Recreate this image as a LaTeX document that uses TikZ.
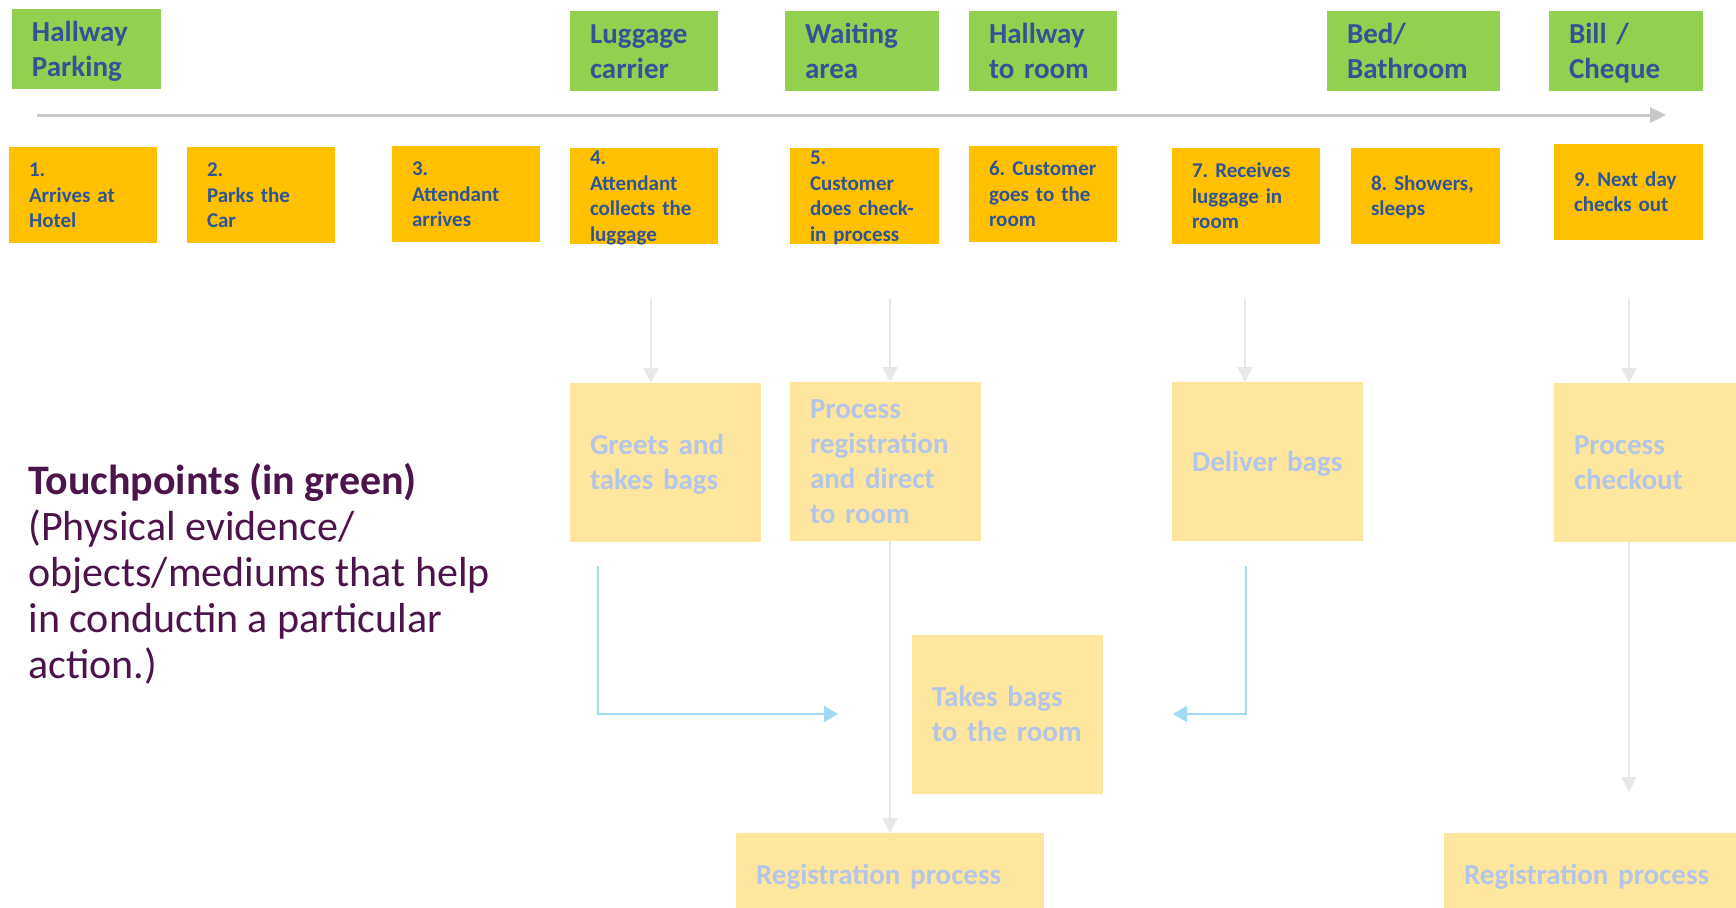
\documentclass[tikz,border=0pt]{standalone}
\usepackage{fontspec}
\setmainfont{Carlito}
\usetikzlibrary{arrows.meta}
\definecolor{tgreen}{RGB}{146,208,80}
\definecolor{torange}{RGB}{255,192,0}
\definecolor{tblue}{RGB}{47,85,151}
\definecolor{pyellow}{RGB}{255,230,158}
\definecolor{ptext}{RGB}{180,198,231}
\definecolor{pgrey}{RGB}{232,232,232}
\definecolor{pblue}{RGB}{160,218,246}
\definecolor{axgrey}{RGB}{200,200,200}
\definecolor{tpurple}{RGB}{76,20,74}
\frenchspacing
\hyphenpenalty=10000
\exhyphenpenalty=10000
\newcommand\boxstrut{\rule[-0.22\baselineskip]{0pt}{\baselineskip}}
\begin{document}
\begin{tikzpicture}[x=0.5pt,y=-0.5pt,
  box/.style={anchor=north west, inner xsep=10pt, inner ysep=0pt, align=left, outer sep=0pt,
    execute at begin node=\boxstrut, execute at end node=\boxstrut},
  bw/.style 2 args={minimum width=#1, text width=#2},
  gbox/.style={box, fill=tgreen, text=tblue, font=\bfseries\fontsize{14.5pt}{17.5pt}\selectfont, minimum height=40pt},
  obox/.style={box, fill=torange, text=tblue, font=\bfseries\fontsize{10.5pt}{12.75pt}\selectfont, minimum height=48pt},
  fourlines/.style={text height=8.45pt, text depth=39.55pt},
  pbox/.style={box, fill=pyellow, text=ptext, font=\bfseries\fontsize{14.5pt}{17.5pt}\selectfont, minimum height=79.5pt},
  axisarrow/.style={draw=axgrey, line width=1.5pt, -{Triangle[length=8pt,width=7.5pt]}},
  garrow/.style={draw=pgrey, line width=1pt, -{Triangle[length=7.5pt,width=7.5pt]}},
  barrow/.style={draw=pblue, line width=1.2pt, -{Triangle[length=7pt,width=8pt]}},
  note/.style={anchor=base west, inner sep=0pt, align=left, text=tpurple, font=\fontsize{21pt}{23pt}\selectfont}
]
\useasboundingbox (0,0) rectangle (1736,907);
\clip (0,0) rectangle (1736,907);
\fill[white] (0,0) rectangle (1736,907);

% touchpoints (green)
\node[gbox, bw={74.5pt}{54.5pt}] (g1) at (12,9) {Hallway\\Parking};
\node[gbox, bw={74pt}{54pt}] (g4) at (570,11) {Luggage\\carrier};
\node[gbox, bw={77pt}{57pt}] (g5) at (785,11) {Waiting\\area};
\node[gbox, bw={74pt}{54pt}] (g6) at (969,11) {Hallway\\to room};
\node[gbox, bw={86.5pt}{66.5pt}] (g8) at (1327,11) {Bed/\\Bathroom};
\node[gbox, bw={77pt}{57pt}] (g9) at (1549,11) {Bill /\\Cheque};

% time axis
\coordinate (axs) at (37,115);
\coordinate (axe) at (1666,115);
\draw[axisarrow] (axs) -- (axe);

% customer actions (orange)
\node[obox, bw={74pt}{54pt}] (o1) at (9,147) {1.\\Arrives at\\Hotel};
\node[obox, bw={74pt}{54pt}] (o2) at (187,147) {2.\\Parks the\\Car};
\node[obox, bw={74pt}{54pt}] (o3) at (392,146) {3.\\Attendant\\arrives};
\node[obox, fourlines, bw={74pt}{54pt}] (o4) at (570,148) {4.\\Attendant\\collects the\\luggage};
\node[obox, fourlines, bw={74.5pt}{54.5pt}] (o5) at (790,148) {5.\\Customer\\does check-\\in process};
\node[obox, bw={74pt}{54pt}] (o6) at (969,146) {6. Customer\\goes to the\\room};
\node[obox, bw={74pt}{54pt}] (o7) at (1172,148) {7. Receives\\luggage in\\room};
\node[obox, bw={74.5pt}{54.5pt}] (o8) at (1351,148) {8. Showers,\\sleeps};
\node[obox, bw={74.5pt}{54.5pt}] (o9) at (1554,144) {9. Next day\\checks out};

% faded lower lanes
\node[pbox, bw={95.5pt}{75.5pt}] (p1) at (570,383) {Greets and\\takes bags};
\node[pbox, bw={95.5pt}{75.5pt}] (p2) at (790,382) {Process\\registration\\and direct\\to room};
\node[pbox, bw={95.5pt}{75.5pt}] (p3) at (1172,382) {Deliver bags};
\node[pbox, bw={95.5pt}{75.5pt}] (p4) at (1554,383) {Process\\checkout};
\node[pbox, bw={95.5pt}{75.5pt}] (p5) at (912,635) {Takes bags\\to the room};
\node[pbox, bw={154pt}{134pt}, minimum height=42pt] (p6) at (736,833) {Registration process};
\node[pbox, bw={154pt}{134pt}, minimum height=42pt] (p7) at (1444,833) {Registration process};

% grey connectors
\coordinate (s1) at (651,299);
\coordinate (s2) at (890,299);
\coordinate (s3) at (1245,299);
\coordinate (s4) at (1629,299);
\coordinate (e4) at (1629,792);
\draw[garrow] (s1) -- (s1 |- p1.north);
\draw[garrow] (s2) -- (s2 |- p2.north);
\draw[garrow] (s2 |- p2.south) -- (s2 |- p6.north);
\draw[garrow] (s3) -- (s3 |- p3.north);
\draw[garrow] (s4) -- (s4 |- p4.north);
\draw[garrow] (s4 |- p4.south) -- (e4);

% blue connectors
\coordinate (b1s) at (598,566);
\coordinate (b1e) at (838,714);
\coordinate (b2s) at (1246,566);
\coordinate (b2e) at (1173,714);
\draw[barrow] (b1s) |- (b1e);
\draw[barrow] (b2s) |- (b2e);

% note
\node[note] (tp) at (28,678) {\textbf{Touchpoints (in green)}\\(Physical evidence/\\objects/mediums that help\\in conductin a particular\\action.)};
\end{tikzpicture}
\end{document}
